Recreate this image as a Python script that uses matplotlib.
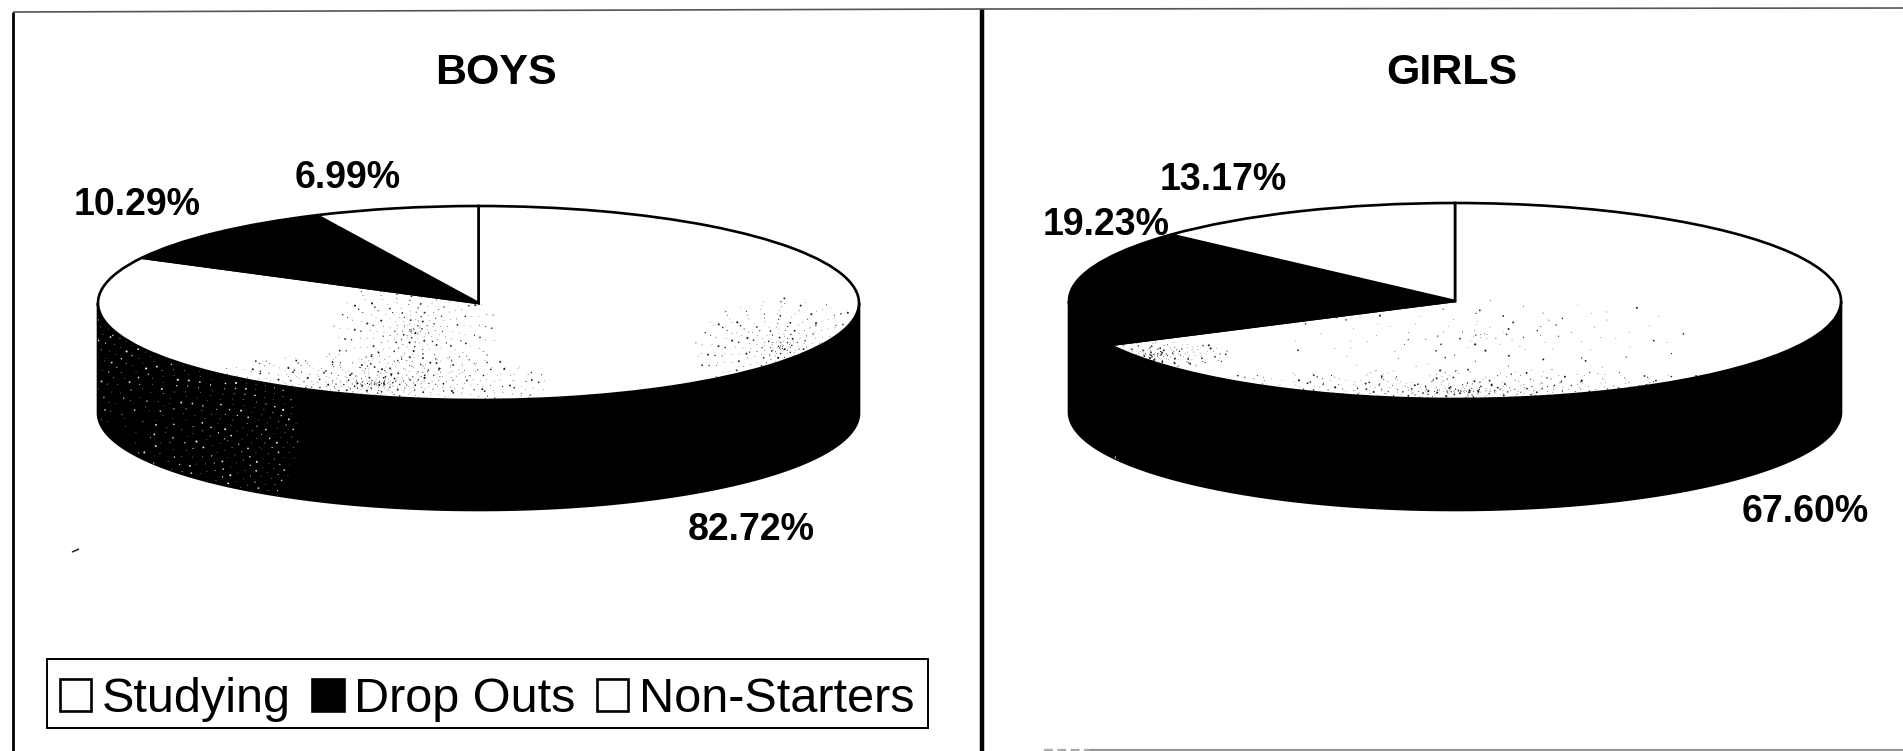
import numpy as np
import matplotlib
matplotlib.use("Agg")
import matplotlib.pyplot as plt
from matplotlib.lines import Line2D
from matplotlib.patches import Patch, Polygon, Rectangle

plt.rcParams["font.family"] = ["Liberation Sans", "DejaVu Sans"]

W, H, DPI = 1903, 751, 100

categories = ["Studying", "Drop Outs", "Non-Starters"]
boys_share = [82.72, 10.29, 6.99]
girls_share = [67.60, 19.23, 13.17]
top_colors = ["white", "black", "white"]


def speckle(ax, clip, cx, cy, rx, ry, count, color, zorder, spread=0.85):
    """Scatter toner flecks in a soft-edged cloud, using a low-discrepancy sequence."""
    i = np.arange(1, count + 1)
    u = (i * 0.7548776662) % 1
    v = (i * 0.5698402910) % 1
    r = u ** spread
    x = cx + rx * r * np.cos(2 * np.pi * v)
    y = cy + ry * r * np.sin(2 * np.pi * v)
    sizes = 0.25 + 2.2 * ((i * 0.381966) % 1) ** 4
    dots = ax.scatter(x, y, s=sizes, c=color, linewidths=0, zorder=zorder)
    dots.set_clip_path(clip)


def add_disc(shares, box, depth, labels_at, title, title_x, face_grain, wall_grain):
    """Draw one extruded pie. box = left, top, right, face-bottom in pixels."""
    left, top, right, face_bottom = box
    ry = (face_bottom - top) / 2
    ax = fig.add_axes([left / W, 1 - (face_bottom + depth) / H,
                       (right - left) / W, (face_bottom + depth - top) / H])
    wedges, _ = ax.pie(shares, colors=top_colors, startangle=90, counterclock=False,
                       wedgeprops=dict(edgecolor="black", linewidth=1.9))
    ax.set_aspect("auto")
    ax.set_xlim(-1, 1)
    d = depth / ry
    ax.set_ylim(-1 - d, 1)
    for w in wedges:
        w.set_zorder(3)
        w.set_clip_on(False)

    # Front wall of the disc: the lower half of the rim, pushed down by the depth
    t = np.radians(np.linspace(180, 360, 181))
    rim_x, rim_y = np.cos(t), np.sin(t)
    wall = np.column_stack([np.r_[rim_x, rim_x[::-1]], np.r_[rim_y, rim_y[::-1] - d]])
    wall_patch = Polygon(wall, closed=True, facecolor="black", edgecolor="black",
                         linewidth=1.9, zorder=2, clip_on=False)
    ax.add_patch(wall_patch)

    for cloud in face_grain:
        speckle(ax, wedges[0], *cloud, color="#222222", zorder=4)
    for cloud in wall_grain:
        speckle(ax, wall_patch, *cloud, color="#e8e8e8", zorder=2.5, spread=0.42)

    for share, (px, py) in zip(shares, labels_at):
        fig.text(px / W, 1 - py / H, f"{share:.2f}%", fontsize=27, fontweight="bold",
                 ha="center", va="center", color="black")
    fig.text(title_x / W, 1 - 73 / H, title, fontsize=31, fontweight="bold",
             ha="center", va="center", color="black")
    return ax


fig = plt.figure(figsize=(W / DPI, H / DPI), dpi=DPI, facecolor="white")

ax_boys = add_disc(boys_share, (98, 206, 859, 400), 110,
                   [(751, 530), (137, 205), (348, 178)], "BOYS", 496,
                   [(-0.27, -0.83, 0.46, 0.32, 520), (-0.17, -0.28, 0.22, 0.55, 260),
                    (0.80, -0.45, 0.24, 0.50, 300)],
                   [(-0.95, -1.35, 0.48, 1.25, 1100)])
ax_girls = add_disc(girls_share, (1069, 203, 1841, 399), 111,
                    [(1805, 512), (1106, 225), (1223, 180)], "GIRLS", 1452,
                    [(0.02, -0.92, 0.85, 0.22, 620), (-0.78, -0.55, 0.20, 0.14, 190),
                     (0.08, -0.35, 0.55, 0.40, 110)],
                    [(-0.88, -1.70, 0.012, 0.12, 30)])

# Panel rules
rules = [((13, 13), (12, 751), 2.0, "black", "-"),
         ((982, 982), (9, 751), 3.2, "black", "-"),
         ((13, 982, 1903), (12, 9, 8), 1.2, "#555555", "-"),
         ((1089, 1903), (750, 750), 1.6, "#999999", "-"),
         ((1044, 1089), (750, 750), 1.6, "#aaaaaa", (0, (4, 2))),
         ((72, 79), (552, 549), 1.2, "#333333", "-")]
for xs, ys, lw, col, style in rules:
    fig.add_artist(Line2D([x / W for x in xs], [1 - y / H for y in ys],
                          color=col, linewidth=lw, linestyle=style, solid_capstyle="butt"))

fig.add_artist(Rectangle((47 / W, 1 - 728 / H), 881 / W, 69 / H, transform=fig.transFigure,
                         facecolor="white", edgecolor="black", linewidth=1.4))
handles = [Patch(facecolor=c, edgecolor="black", linewidth=1.9) for c in top_colors]
fig.legend(handles, categories, loc="upper left",
           bbox_to_anchor=(49.5 / W, 1 - 666 / H), ncol=3, fontsize=35,
           frameon=False, handlelength=0.64, handleheight=0.64, handletextpad=0.22,
           columnspacing=0.44, borderpad=0.22, borderaxespad=0, labelspacing=0)

fig.savefig("out.png", dpi=DPI)
